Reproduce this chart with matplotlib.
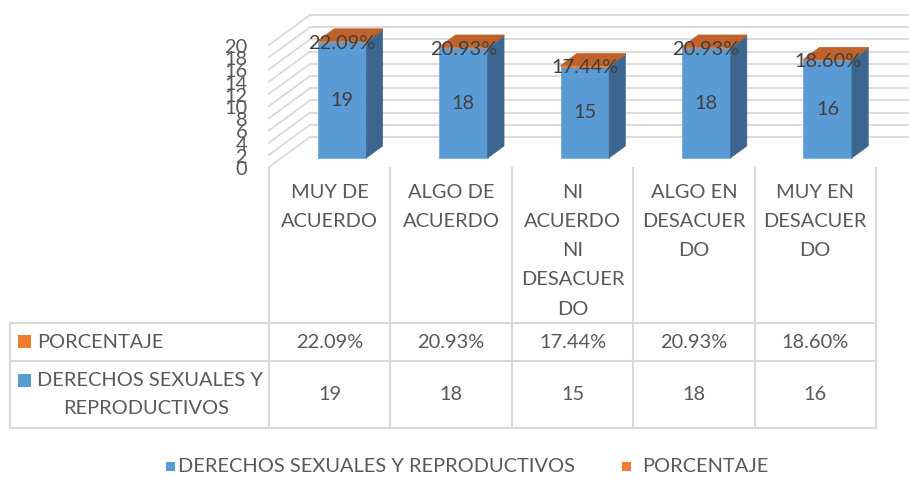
import numpy as np
import matplotlib
matplotlib.use('Agg')
from matplotlib import pyplot as plt
from matplotlib.patches import Polygon, Rectangle

plt.rcParams['font.family'] = ['Lato', 'DejaVu Sans']

# data
categories = ["MUY DE\nACUERDO", "ALGO DE\nACUERDO", "NI\nACUERDO\nNI\nDESACUER\nDO",
              "ALGO EN\nDESACUER\nDO", "MUY EN\nDESACUER\nDO"]
derechos = [19, 18, 15, 18, 16]
porcentaje = [22.09, 20.93, 17.44, 20.93, 18.60]
y_ticks = list(range(0, 21, 2))
series_names = ["DERECHOS SEXUALES Y REPRODUCTIVOS", "PORCENTAJE"]

BLUE, BLUE_SIDE = '#5B9BD5', '#3C6690'
ORANGE, ORANGE_TOP, ORANGE_SIDE = '#ED7D31', '#C0622A', '#A9561F'
GRID = '#D9D9D9'
TXT = '#595959'
LAB = '#404040'
FS = 14.4

W, H = 909, 479
PXX, PXY = 121.4, 6.1      # pixels per category / per value unit
X0, Y0 = 269, 167          # front-left floor corner in pixels
DX, DY = 41 / PXX, 30 / PXY  # full depth of the 3d box, in data units

fig = plt.figure(figsize=(W / 100, H / 100), dpi=100)

# overlay in pixel coords for data table and legend
tab = fig.add_axes([0, 0, 1, 1])
tab.set_xlim(0, W)
tab.set_ylim(H, 0)
tab.axis('off')

# 3d-ish chart area
ax = fig.add_axes([X0 / W, (H - Y0) / H, (W - X0) / W, Y0 / H])
xmax = (W - X0) / PXX
ax.set_xlim(0, xmax)
ax.set_ylim(0, Y0 / PXY)
ax.axis('off')

# walls: side wall diagonals + back wall gridlines
for v in y_ticks:
    ax.plot([0, DX], [v, v + DY], color=GRID, lw=1.3, clip_on=False, zorder=1)
    ax.plot([DX, xmax], [v + DY, v + DY], color=GRID, lw=1.3, clip_on=False, zorder=1)
    ax.text(-0.18, v - 0.4, str(v), ha='right', va='center', fontsize=FS,
            color=TXT, clip_on=False)

# bars
d0, dd = 0.3, 0.4          # bar starts at 30% depth, spans 40%
bw = 0.4
bx0, by0 = d0 * DX, d0 * DY
sx, sy = dd * DX, dd * DY


def prism(x0, y0, y1, front, side, top, z):
    ax.add_patch(Rectangle((x0, y0), bw, y1 - y0, facecolor=front, edgecolor=front,
                           lw=0.4, zorder=z))
    ax.add_patch(Polygon([(x0 + bw, y0), (x0 + bw + sx, y0 + sy), (x0 + bw + sx, y1 + sy),
                          (x0 + bw, y1)], closed=True, facecolor=side, edgecolor=side,
                         lw=0.4, zorder=z))
    ax.add_patch(Polygon([(x0, y1), (x0 + bw, y1), (x0 + bw + sx, y1 + sy), (x0 + sx, y1 + sy)],
                         closed=True, facecolor=top, edgecolor=top, lw=0.4, zorder=z))


for i, (n, p) in enumerate(zip(derechos, porcentaje)):
    x0 = i + 0.5 - bw / 2 + bx0
    prism(x0, by0, by0 + n, BLUE, BLUE_SIDE, BLUE, 3)
    prism(x0, by0 + n, by0 + n + p / 100, ORANGE, ORANGE_SIDE, ORANGE_TOP, 4)
    ax.text(x0 + bw / 2, by0 + n / 2, str(n), ha='center', va='center',
            fontsize=FS, color=LAB, zorder=6)
    ax.text(x0 + bw / 2, by0 + n - 0.2, "%.2f%%" % p, ha='center', va='center',
            fontsize=FS, color=LAB, zorder=6)

# data table
cols = [X0 + i * PXX for i in range(len(categories) + 1)]
row_top, row1, row2, row3 = 168, 323, 361, 428
for c in cols:
    tab.plot([c, c], [row_top, row3], color=GRID, lw=1.5)
tab.plot([10, 10], [row1, row3], color=GRID, lw=1.5)
for r in (row1, row2, row3):
    tab.plot([10, cols[-1]], [r, r], color=GRID, lw=1.5)

for i, cat in enumerate(categories):
    cx = (cols[i] + cols[i + 1]) / 2
    for k, line in enumerate(cat.split('\n')):
        tab.text(cx, 192 + k * 29.3, line, ha='center', va='center', fontsize=FS, color=TXT)
    tab.text(cx, (row1 + row2) / 2, "%.2f%%" % porcentaje[i], ha='center', va='center',
             fontsize=FS, color=TXT)
    tab.text(cx, (row2 + row3) / 2, str(derechos[i]), ha='center', va='center',
             fontsize=FS, color=TXT)

tab.add_patch(Rectangle((18, 335), 13, 13, facecolor=ORANGE, edgecolor='none'))
tab.text(37, 342, series_names[1], ha='left', va='center', fontsize=FS, color=TXT)
tab.add_patch(Rectangle((18, 374), 13, 13, facecolor=BLUE, edgecolor='none'))
tab.text(37, 381, "DERECHOS SEXUALES Y", ha='left', va='center', fontsize=FS, color=TXT)
tab.text(146, 408, "REPRODUCTIVOS", ha='center', va='center', fontsize=FS, color=TXT)

# legend
tab.add_patch(Rectangle((166, 462), 9, 9, facecolor=BLUE, edgecolor='none'))
tab.text(178, 467, series_names[0], ha='left', va='center', fontsize=FS, color=TXT)
tab.add_patch(Rectangle((622, 462), 9, 9, facecolor=ORANGE, edgecolor='none'))
tab.text(642, 467, series_names[1], ha='left', va='center', fontsize=FS, color=TXT)

fig.savefig('out.png', dpi=100)
